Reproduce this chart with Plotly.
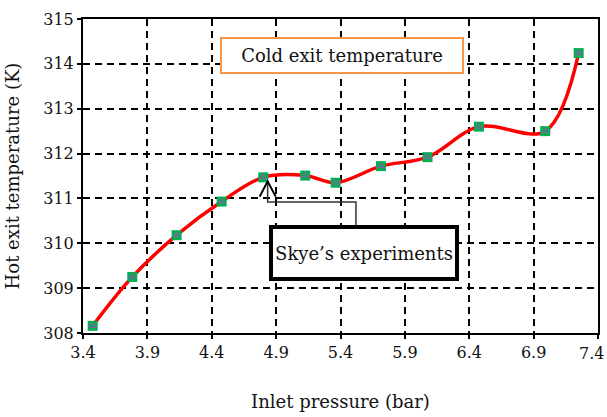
import plotly.graph_objects as go

pressure = [3.475, 3.783, 4.127, 4.477, 4.80, 5.126, 5.362, 5.714, 6.076, 6.475, 6.99, 7.25]
hot_temp = [308.16, 309.25, 310.18, 310.93, 311.47, 311.51, 311.35, 311.72, 311.92, 312.60, 312.50, 314.24]
x_ticks = [3.4, 3.9, 4.4, 4.9, 5.4, 5.9, 6.4, 6.9, 7.4]
y_ticks = [308, 309, 310, 311, 312, 313, 314, 315]

FONT = "DejaVu Serif"

fig = go.Figure()
fig.add_trace(go.Scatter(x=pressure, y=hot_temp, mode="lines",
                         line=dict(color="#ff0000", width=3.5, shape="spline", smoothing=1.0),
                         showlegend=False, hoverinfo="skip"))
fig.add_trace(go.Scatter(x=pressure, y=hot_temp, mode="markers",
                         marker=dict(symbol="square", size=10, color="#00b050", line=dict(width=0)),
                         showlegend=False))
fig.add_trace(go.Scatter(x=pressure, y=hot_temp, mode="markers",
                         marker=dict(symbol="triangle-up-open", size=6, color="#8064a2",
                                     line=dict(width=1.2, color="#8064a2")),
                         showlegend=False))

# elbow connector from Skye's box to data point
fig.add_shape(type="path", xref="x", yref="y",
              path="M 4.834 311.38 L 4.834 310.92 L 5.52 310.92 L 5.52 310.38",
              line=dict(color="#333333", width=1.5))
fig.add_shape(type="path", xref="x", yref="y",
              path="M 4.772 311.04 L 4.834 311.38 L 4.897 311.04",
              line=dict(color="#000000", width=2))

fig.add_annotation(x=5.41, y=314.18, xref="x", yref="y", text="Cold exit temperature",
                   showarrow=False, xanchor="center", yanchor="middle",
                   font=dict(family=FONT, size=18, color="#111111"),
                   bgcolor="white", bordercolor="#f79646", borderwidth=2, borderpad=0,
                   width=240, height=33)
fig.add_annotation(x=5.58, y=309.79, xref="x", yref="y", text="Skye\u2019s experiments",
                   showarrow=False, xanchor="center", yanchor="middle",
                   font=dict(family=FONT, size=18, color="#111111"),
                   bgcolor="white", bordercolor="#000000", borderwidth=4, borderpad=0,
                   width=182, height=48)

axis_common = dict(showline=True, linecolor="black", linewidth=2, mirror=True,
                   ticks="outside", ticklen=4, tickwidth=2, tickcolor="black",
                   showgrid=True, gridcolor="black", gridwidth=1.6, griddash="7px,5px",
                   zeroline=False,
                   tickfont=dict(family=FONT, size=16, color="#111111"))

x_labels = [f"{v:.1f}" for v in x_ticks]
fig.update_xaxes(range=[3.4, 7.4], tickvals=x_ticks, ticktext=x_labels[:-1] + [""],
                 title=dict(text="Inlet pressure (bar)", font=dict(family=FONT, size=18, color="#111111"), standoff=34),
                 **axis_common)
# last x tick label sits against the right edge of the page
fig.add_annotation(x=x_ticks[-1], y=0, xref="x", yref="paper", text=x_labels[-1],
                   showarrow=False, xanchor="right", yanchor="top", xshift=8, yshift=-9,
                   font=dict(family=FONT, size=16, color="#111111"))
fig.update_yaxes(range=[308, 315], tickvals=y_ticks, ticktext=[str(v) for v in y_ticks],
                 title=dict(text="Hot exit temperature (K)", font=dict(family=FONT, size=18, color="#111111"), standoff=19),
                 **axis_common)

fig.update_layout(width=607, height=417, margin=dict(l=83, r=9, t=19, b=84, autoexpand=False),
                  plot_bgcolor="white", paper_bgcolor="white", showlegend=False)

fig.write_html("out.html")
